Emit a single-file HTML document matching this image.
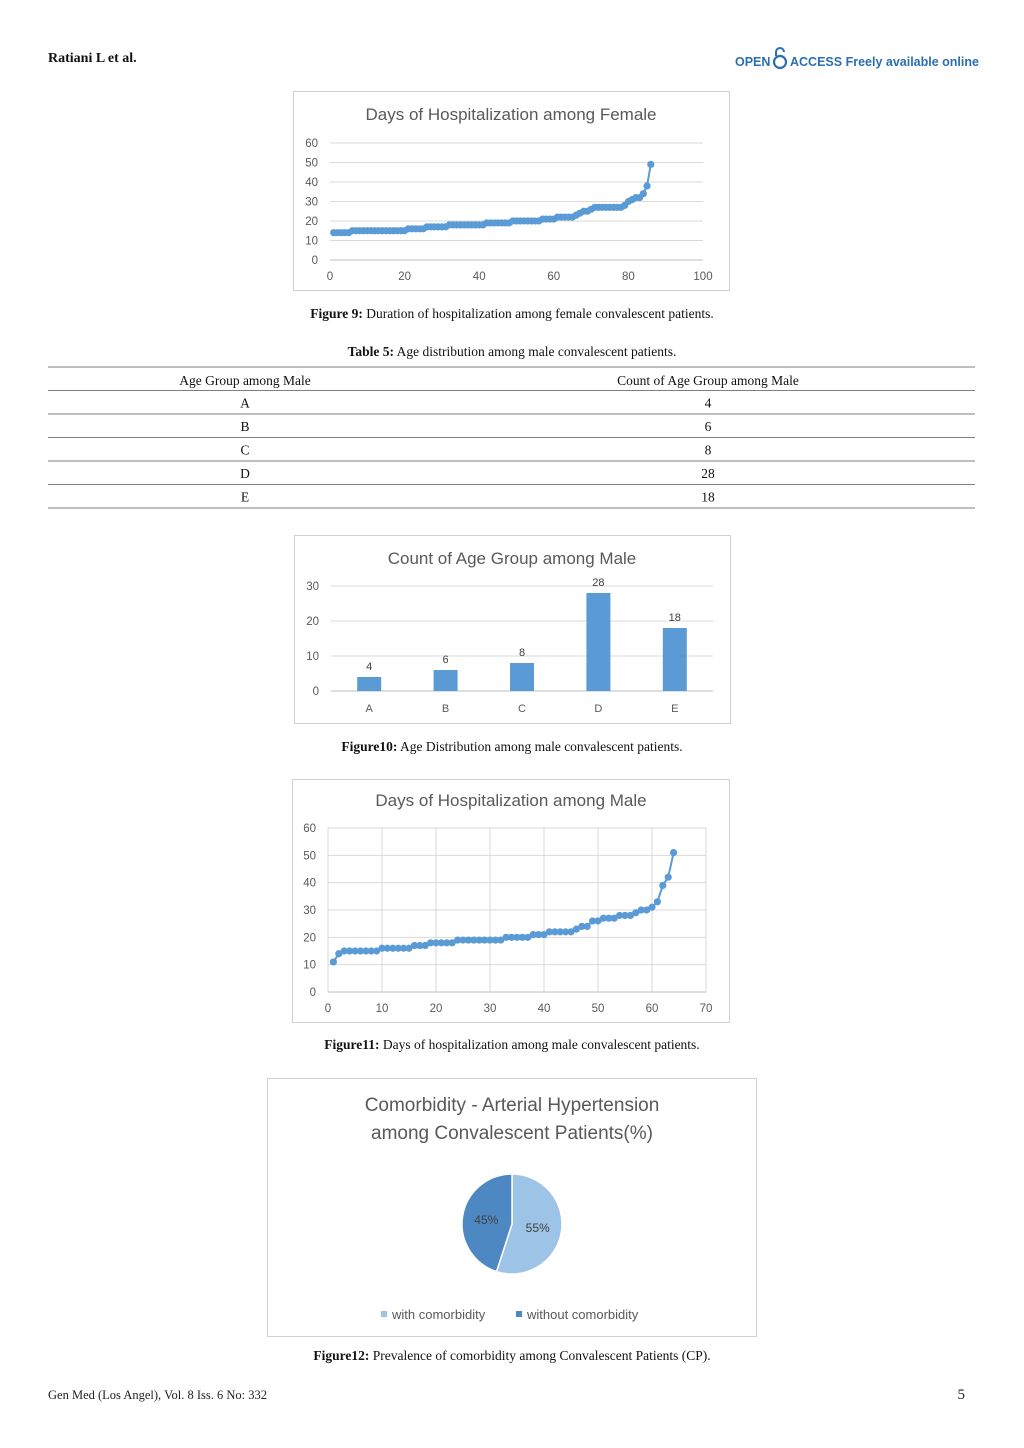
<!DOCTYPE html>
<html><head><meta charset="utf-8"><style>
body{margin:0;background:#fff;}
svg{display:block;}
.serif{font-family:"Liberation Serif",serif;}
.sans{font-family:"Liberation Sans",sans-serif;}
</style></head><body>
<svg id="pg" width="1024" height="1448" viewBox="0 0 1024 1448" xmlns="http://www.w3.org/2000/svg">
<text x="48" y="62" class="serif" font-size="14" font-weight="bold" fill="#111">Ratiani L et al.</text>
<g>
<text x="735" y="66" class="sans" font-size="12.5" font-weight="bold" fill="#2a6fb0">OPEN</text>
<circle cx="780" cy="62" r="6" fill="none" stroke="#2a6fb0" stroke-width="2.2"/>
<path d="M776 56 v-4 a4 4 0 0 1 8 0" fill="none" stroke="#2a6fb0" stroke-width="2"/>
<text x="790" y="66" class="sans" font-size="12.5" font-weight="bold" fill="#2a6fb0">ACCESS Freely available online</text>
</g>

<!-- Figure 9 -->
<rect x="293.5" y="91.5" width="436" height="199" fill="#fff" stroke="#d0d0d0"/>
<text x="511" y="120" text-anchor="middle" class="sans" font-size="17" fill="#595959">Days of Hospitalization among Female</text>
<g id="f9"></g>
<text x="512" y="318" text-anchor="middle" class="serif" font-size="13.5" fill="#111"><tspan font-weight="bold">Figure 9:</tspan> Duration of hospitalization among female convalescent patients.</text>

<!-- Table 5 -->
<text x="512" y="356" text-anchor="middle" class="serif" font-size="13.5" fill="#111"><tspan font-weight="bold">Table 5:</tspan> Age distribution among male convalescent patients.</text>
<g id="tbl"></g>

<!-- Figure 10 -->
<rect x="294.5" y="535.5" width="436" height="188" fill="#fff" stroke="#d0d0d0"/>
<text x="512" y="564" text-anchor="middle" class="sans" font-size="17" fill="#595959">Count of Age Group among Male</text>
<g id="f10"></g>
<text x="512" y="751" text-anchor="middle" class="serif" font-size="13.5" fill="#111"><tspan font-weight="bold">Figure10:</tspan> Age Distribution among male convalescent patients.</text>

<!-- Figure 11 -->
<rect x="292.5" y="779.5" width="437" height="243" fill="#fff" stroke="#d0d0d0"/>
<text x="511" y="806" text-anchor="middle" class="sans" font-size="17" fill="#595959">Days of Hospitalization among Male</text>
<g id="f11"></g>
<text x="512" y="1049" text-anchor="middle" class="serif" font-size="13.5" fill="#111"><tspan font-weight="bold">Figure11:</tspan> Days of hospitalization among male convalescent patients.</text>

<!-- Figure 12 -->
<rect x="267.5" y="1078.5" width="489" height="258" fill="#fff" stroke="#d0d0d0"/>
<text x="512" y="1111" text-anchor="middle" class="sans" font-size="19" fill="#595959">Comorbidity - Arterial Hypertension</text>
<text x="512" y="1139" text-anchor="middle" class="sans" font-size="19" fill="#595959">among Convalescent Patients(%)</text>
<g id="f12"></g>
<text x="512" y="1360" text-anchor="middle" class="serif" font-size="13.5" fill="#111"><tspan font-weight="bold">Figure12:</tspan> Prevalence of comorbidity among Convalescent Patients (CP).</text>

<text x="48" y="1399" class="serif" font-size="12.5" fill="#222">Gen Med (Los Angel), Vol. 8 Iss. 6 No: 332</text>
<text x="965" y="1399" text-anchor="end" class="serif" font-size="15" fill="#222">5</text>
</svg>
<script>
const NS="http://www.w3.org/2000/svg";
const femaleDays=[14,14,14,14,14,15,15,15,15,15,15,15,15,15,15,15,15,15,15,15,16,16,16,16,16,17,17,17,17,17,17,18,18,18,18,18,18,18,18,18,18,19,19,19,19,19,19,19,20,20,20,20,20,20,20,20,21,21,21,21,22,22,22,22,22,23,24,25,25,26,27,27,27,27,27,27,27,27,28,30,31,32,32,34,38,49];
const maleDays=[11,14,15,15,15,15,15,15,15,16,16,16,16,16,16,17,17,17,18,18,18,18,18,19,19,19,19,19,19,19,19,19,20,20,20,20,20,21,21,21,22,22,22,22,22,23,24,24,26,26,27,27,27,28,28,28,29,30,30,31,33,39,42,51];
const ageGroups=["A","B","C","D","E"];
const ageCounts=[4,6,8,28,18];
const pieLabels=["with comorbidity","without comorbidity"];
const pieValues=[55,45];
const yTicksDays=[0,10,20,30,40,50,60];
const xTicksF=[0,20,40,60,80,100];
const xTicksM=[0,10,20,30,40,50,60,70];
const yTicksCount=[0,10,20,30];

function mk(parent,tag,attrs,text){const e=document.createElementNS(NS,tag);for(const k in attrs)e.setAttribute(k,attrs[k]);if(text!==undefined)e.textContent=text;parent.appendChild(e);return e;}

function lineChart(g,data,xTicks,xMax,px0,px1,py0,py1,vgrid,pre){
  const sx=v=>px0+(v/xMax)*(px1-px0), sy=v=>py0-(v/60)*(py0-py1);
  yTicksDays.forEach(t=>{
    const l=mk(g,"line",{x1:px0,x2:px1,y1:sy(t),y2:sy(t),stroke:"#d9d9d9","stroke-width":1});
    
    
    const tx=mk(g,"text",{x:px0-12,y:sy(t)+4,"text-anchor":"end","font-size":11.5,fill:"#595959","font-family":"Liberation Sans,sans-serif"},t);
    
    
  });
  xTicks.forEach(t=>{
    if(vgrid){const l=mk(g,"line",{x1:sx(t),x2:sx(t),y1:py1,y2:py0,stroke:"#d9d9d9","stroke-width":1});
      
      }
    const tx=mk(g,"text",{x:sx(t),y:py0+20,"text-anchor":"middle","font-size":11.5,fill:"#595959","font-family":"Liberation Sans,sans-serif"},t);
    
    
  });
  const ax=mk(g,"line",{x1:px0,x2:px1,y1:py0,y2:py0,stroke:"#bfbfbf"});
  
  
  const pts=data.map((v,i)=>sx(i+1)+","+sy(v)).join(" ");
  const pl=mk(g,"polyline",{points:pts,fill:"none",stroke:"#5b9bd5","stroke-width":2});
  
  
  data.forEach((v,i)=>{
    const c=mk(g,"circle",{cx:sx(i+1),cy:sy(v),r:3.6,fill:"#5b9bd5"});
    
    
  });
}
lineChart(document.getElementById("f9"),femaleDays,xTicksF,100,330,703,260,143,false,"figure9");
lineChart(document.getElementById("f11"),maleDays,xTicksM,70,328,706,992,828,true,"figure11");

// bar chart
(function(){
  const g=document.getElementById("f10");
  const px0=331,px1=713,py0=691,py1=586;
  const sy=v=>py0-(v/30)*(py0-py1);
  const band=(px1-px0)/ageGroups.length;
  yTicksCount.forEach(t=>{
    const l=mk(g,"line",{x1:px0,x2:px1,y1:sy(t),y2:sy(t),stroke:t===0?"#bfbfbf":"#d9d9d9"});
    
    
    const tx=mk(g,"text",{x:319,y:sy(t)+4,"text-anchor":"end","font-size":11.5,fill:"#595959","font-family":"Liberation Sans,sans-serif"},t);
    
    
  });
  ageGroups.forEach((c,i)=>{
    const cx=px0+band*(i+0.5), v=ageCounts[i];
    const r=mk(g,"rect",{x:cx-12,y:sy(v),width:24,height:py0-sy(v),fill:"#5b9bd5"});
    
    
    const vl=mk(g,"text",{x:cx,y:sy(v)-7,"text-anchor":"middle","font-size":11,fill:"#404040","font-family":"Liberation Sans,sans-serif"},v);
    
    
    const xl=mk(g,"text",{x:cx,y:712,"text-anchor":"middle","font-size":11,fill:"#595959","font-family":"Liberation Sans,sans-serif"},c);
    
    
  });
})();

// table
(function(){
  const g=document.getElementById("tbl");
  const top=367,rh=23.5;
  const hdr=["Age Group among Male","Count of Age Group among Male"];
  for(let i=0;i<=ageGroups.length+1;i++){
    const y=top+i*rh+(i>0?0:0);
    const l=mk(g,"line",{x1:48,x2:975,y1:y,y2:y,stroke:"#555","stroke-width":0.8});
    
    
  }
  hdr.forEach((h,j)=>{
    const t=mk(g,"text",{x:j?708:245,y:top+18,"text-anchor":"middle","font-size":13.5,fill:"#111","font-family":"Liberation Serif,serif"},h);
    
    
  });
  ageGroups.forEach((c,i)=>{
    const y=top+(i+1)*rh+17;
    const a=mk(g,"text",{x:245,y:y,"text-anchor":"middle","font-size":13.5,fill:"#111","font-family":"Liberation Serif,serif"},c);
    
    
    const b=mk(g,"text",{x:708,y:y,"text-anchor":"middle","font-size":13.5,fill:"#111","font-family":"Liberation Serif,serif"},ageCounts[i]);
    
    
  });
})();

// pie
(function(){
  const g=document.getElementById("f12");
  const cx=512,cy=1224,r=50,cols=["#9dc3e6","#4e88c2"];
  const total=pieValues.reduce((a,b)=>a+b,0);
  let a0=-Math.PI/2;
  pieValues.forEach((v,i)=>{
    const a1=a0+v/total*2*Math.PI;
    const large=(a1-a0)>Math.PI?1:0;
    const d=`M${cx},${cy} L${cx+r*Math.cos(a0)},${cy+r*Math.sin(a0)} A${r},${r} 0 ${large} 1 ${cx+r*Math.cos(a1)},${cy+r*Math.sin(a1)} Z`;
    const p=mk(g,"path",{d:d,fill:cols[i],stroke:"#fff","stroke-width":1.5});
    
    
    const am=(a0+a1)/2;
    const t=mk(g,"text",{x:cx+r*0.52*Math.cos(am),y:cy+r*0.52*Math.sin(am)+4,"text-anchor":"middle","font-size":12,fill:"#404040","font-family":"Liberation Sans,sans-serif"},v+"%");
    
    
    a0=a1;
  });
  const lx=[381,516];
  pieLabels.forEach((l,i)=>{
    const s=mk(g,"rect",{x:lx[i],y:1311,width:6,height:6,fill:cols[i]});
    
    
    const t=mk(g,"text",{x:lx[i]+11,y:1319,"font-size":13,fill:"#595959","font-family":"Liberation Sans,sans-serif"},l);
    
    
  });
})();
</script>
</body></html>
